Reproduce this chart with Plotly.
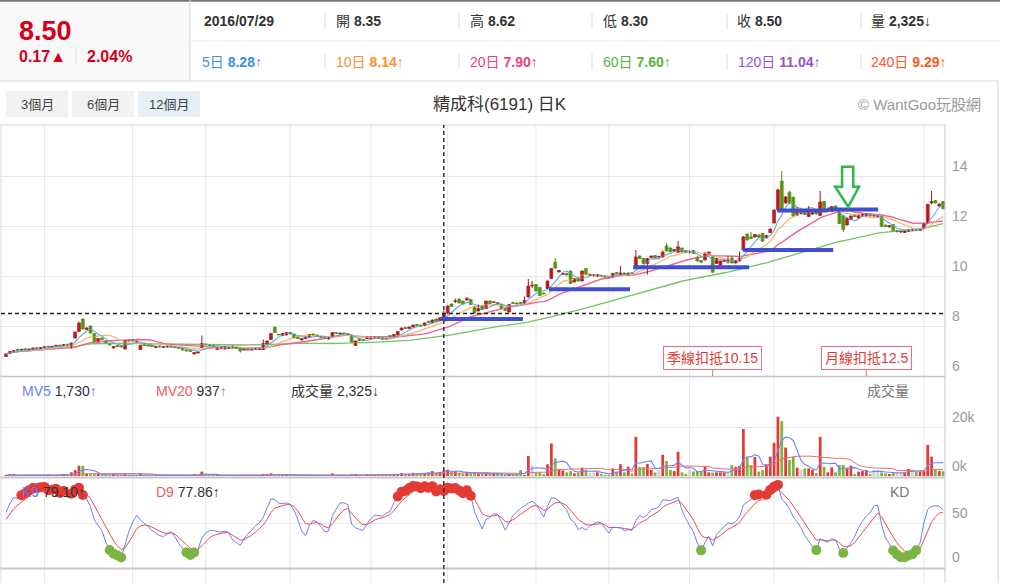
import pandas as pd
import plotly.graph_objects as go

# 精成科(6191) daily candles, oldest first
opens = [
    6.78, 6.90, 6.96, 7.06, 7.04, 7.08, 7.04, 7.08, 7.12, 7.10,
    7.14, 7.18, 7.16, 7.20, 7.22, 7.22, 7.24, 7.12, 7.52, 7.78,
    8.28, 7.86, 8.00, 7.70, 7.36, 7.52, 7.40, 7.30, 7.12, 7.22,
    7.20, 7.08, 7.44, 7.44, 7.40, 7.06, 7.28, 7.25, 7.22, 7.14,
    7.20, 7.14, 7.16, 7.20, 7.14, 7.14, 7.10, 7.04, 7.02, 6.88,
    6.92, 7.14, 7.28, 7.26, 7.22, 7.06, 7.10, 7.08, 7.10, 7.20,
    7.14, 7.12, 7.04, 7.04, 7.04, 7.06, 7.06, 7.06, 7.28, 7.46,
    7.95, 7.66, 7.62, 7.64, 7.74, 7.68, 7.56, 7.44, 7.50, 7.56,
    7.68, 7.64, 7.58, 7.54, 7.48, 7.58, 7.74, 7.68, 7.72, 7.70,
    7.64, 7.22, 7.48, 7.46, 7.50, 7.50, 7.52, 7.56, 7.52, 7.50,
    7.62, 7.58, 7.64, 7.84, 7.94, 7.90, 7.96, 8.06, 8.04, 8.02,
    8.18, 8.14, 8.28, 8.22, 8.35, 8.52, 8.88, 8.98, 9.08, 9.00,
    9.04, 9.06, 8.76, 8.60, 8.80, 8.70, 9.00, 8.94, 8.94, 8.86,
    8.70, 8.56, 8.94, 8.92, 8.94, 8.92, 9.16, 9.60, 9.66, 9.54,
    9.32, 9.50, 9.90, 10.56, 10.16, 10.06, 10.10, 10.20, 9.76, 9.90,
    9.80, 10.30, 10.04, 10.02, 9.98, 10.02, 10.00, 9.96, 9.96, 10.14,
    10.06, 10.12, 10.04, 10.12, 10.40, 10.80, 10.70, 10.50, 10.74, 10.82,
    10.76, 10.76, 11.20, 11.12, 11.00, 10.95, 11.12, 11.00, 10.94, 11.02,
    10.76, 10.62, 10.64, 10.88, 10.77, 10.50, 10.36, 10.58, 10.62, 10.72,
    10.52, 10.60, 11.04, 11.68, 11.56, 11.56, 11.64, 11.70, 11.52, 11.74,
    12.12, 12.64, 13.80, 12.92, 13.35, 13.15, 12.44, 12.50, 12.56, 12.38,
    12.48, 12.58, 12.42, 12.98, 12.58, 12.58, 12.80, 12.66, 12.40, 12.04,
    12.26, 12.42, 12.32, 12.40, 12.40, 12.46, 12.40, 12.38, 12.40, 12.04,
    11.96, 12.06, 11.78, 11.76, 11.74, 11.78, 11.84, 11.86, 11.82, 11.94,
    12.12, 12.92, 13.02, 12.80, 12.98,
]
closes = [
    6.88, 6.98, 7.02, 7.02, 7.06, 7.06, 7.08, 7.12, 7.10, 7.14,
    7.16, 7.16, 7.18, 7.22, 7.20, 7.26, 7.22, 7.32, 7.76, 8.12,
    7.88, 7.92, 7.72, 7.38, 7.50, 7.46, 7.32, 7.24, 7.18, 7.18,
    7.16, 7.42, 7.40, 7.40, 7.36, 7.22, 7.22, 7.20, 7.18, 7.18,
    7.16, 7.18, 7.20, 7.16, 7.16, 7.10, 7.04, 7.00, 6.98, 6.94,
    6.96, 7.30, 7.24, 7.22, 7.18, 7.14, 7.16, 7.18, 7.16, 7.12,
    7.10, 7.00, 7.08, 7.08, 7.08, 7.10, 7.10, 7.30, 7.40, 7.70,
    7.74, 7.64, 7.70, 7.74, 7.68, 7.52, 7.50, 7.50, 7.56, 7.66,
    7.64, 7.58, 7.54, 7.50, 7.54, 7.74, 7.70, 7.72, 7.68, 7.66,
    7.36, 7.40, 7.42, 7.42, 7.56, 7.56, 7.56, 7.50, 7.46, 7.46,
    7.56, 7.66, 7.78, 7.92, 7.90, 7.96, 8.04, 8.02, 8.00, 8.12,
    8.14, 8.24, 8.19, 8.33, 8.50, 8.80, 8.78, 9.00, 8.92, 8.88,
    9.10, 8.86, 8.52, 8.70, 8.66, 9.00, 8.90, 8.96, 8.88, 8.70,
    8.62, 8.86, 8.90, 8.88, 8.90, 9.02, 9.60, 9.60, 9.40, 9.22,
    9.28, 9.80, 10.30, 10.32, 10.22, 10.10, 10.04, 9.70, 9.90, 9.80,
    10.20, 10.06, 10.04, 10.02, 10.04, 9.98, 9.94, 9.92, 10.10, 10.08,
    10.12, 10.08, 10.12, 10.10, 10.76, 10.70, 10.50, 10.70, 10.80, 10.72,
    10.76, 10.96, 11.00, 10.98, 11.06, 11.17, 10.96, 10.94, 10.94, 10.90,
    10.60, 10.55, 10.92, 10.96, 10.15, 10.70, 10.60, 10.64, 10.62, 10.52,
    10.62, 10.70, 11.56, 11.44, 11.50, 11.66, 11.56, 11.40, 11.62, 11.88,
    12.64, 13.44, 12.64, 13.16, 12.90, 12.40, 12.60, 12.50, 12.46, 12.66,
    12.56, 12.48, 12.96, 12.62, 12.62, 12.78, 12.64, 12.10, 11.86, 12.30,
    12.40, 12.38, 12.44, 12.46, 12.50, 12.40, 12.40, 12.38, 11.98, 11.98,
    12.02, 11.80, 11.78, 11.76, 11.80, 11.84, 11.84, 11.82, 11.88, 12.10,
    12.86, 12.98, 12.92, 12.88, 12.70,
]
highs = [
    6.90, 7.00, 7.04, 7.10, 7.08, 7.10, 7.10, 7.14, 7.14, 7.16,
    7.18, 7.20, 7.20, 7.24, 7.26, 7.28, 7.30, 7.34, 7.78, 8.18,
    8.30, 7.96, 8.02, 7.72, 7.52, 7.54, 7.42, 7.32, 7.20, 7.24,
    7.22, 7.44, 7.46, 7.46, 7.42, 7.24, 7.30, 7.26, 7.24, 7.20,
    7.22, 7.20, 7.22, 7.22, 7.18, 7.16, 7.12, 7.06, 7.04, 6.96,
    6.98, 7.62, 7.30, 7.28, 7.24, 7.16, 7.18, 7.20, 7.18, 7.22,
    7.16, 7.14, 7.10, 7.10, 7.10, 7.12, 7.12, 7.46, 7.42, 7.72,
    7.98, 7.68, 7.72, 7.76, 7.76, 7.70, 7.58, 7.52, 7.58, 7.68,
    7.70, 7.66, 7.60, 7.56, 7.56, 7.76, 7.76, 7.74, 7.74, 7.72,
    7.66, 7.42, 7.50, 7.48, 7.58, 7.58, 7.58, 7.58, 7.54, 7.52,
    7.64, 7.68, 7.80, 7.94, 7.96, 7.98, 8.06, 8.08, 8.06, 8.14,
    8.22, 8.26, 8.30, 8.36, 8.62, 8.82, 8.90, 9.10, 9.10, 9.02,
    9.16, 9.08, 8.78, 8.86, 8.82, 9.02, 9.02, 8.98, 8.96, 8.88,
    8.72, 8.88, 8.96, 8.94, 8.96, 9.18, 9.88, 9.80, 9.68, 9.56,
    9.34, 9.82, 10.32, 10.72, 10.24, 10.12, 10.12, 10.22, 9.92, 9.92,
    10.22, 10.32, 10.08, 10.06, 10.06, 10.04, 10.02, 9.98, 10.12, 10.16,
    10.40, 10.14, 10.14, 10.14, 11.04, 10.82, 10.72, 10.72, 10.82, 10.84,
    10.80, 11.02, 11.30, 11.14, 11.08, 11.40, 11.14, 11.02, 10.98, 11.04,
    10.78, 10.64, 10.94, 10.98, 10.79, 10.72, 10.62, 10.66, 10.80, 10.80,
    10.64, 10.98, 11.60, 11.70, 11.76, 11.68, 11.66, 11.72, 11.64, 11.90,
    12.66, 13.50, 14.20, 13.20, 13.40, 13.18, 12.76, 12.60, 12.58, 12.80,
    12.58, 12.60, 13.40, 13.00, 12.66, 12.80, 12.82, 12.68, 12.44, 12.32,
    12.42, 12.44, 12.46, 12.48, 12.52, 12.48, 12.44, 12.42, 12.42, 12.06,
    12.04, 12.08, 11.82, 11.80, 11.82, 11.86, 11.88, 11.88, 11.90, 12.12,
    12.90, 13.40, 13.04, 12.90, 13.00,
]
lows = [
    6.76, 6.88, 6.94, 7.00, 7.02, 7.04, 7.02, 7.06, 7.08, 7.08,
    7.12, 7.14, 7.14, 7.18, 7.18, 7.20, 7.20, 7.10, 7.50, 7.76,
    7.86, 7.84, 7.70, 7.36, 7.34, 7.44, 7.30, 7.22, 7.10, 7.16,
    7.14, 7.06, 7.38, 7.38, 7.34, 7.04, 7.20, 7.18, 7.16, 7.12,
    7.14, 7.12, 7.14, 7.14, 7.12, 7.08, 7.02, 6.98, 6.96, 6.86,
    6.90, 7.12, 7.22, 7.20, 7.16, 7.04, 7.08, 7.06, 7.08, 7.10,
    7.08, 6.94, 7.02, 7.02, 7.02, 7.04, 7.04, 7.04, 7.26, 7.44,
    7.72, 7.62, 7.60, 7.62, 7.66, 7.50, 7.48, 7.42, 7.48, 7.54,
    7.62, 7.56, 7.52, 7.48, 7.46, 7.56, 7.68, 7.66, 7.66, 7.64,
    7.34, 7.20, 7.40, 7.40, 7.48, 7.48, 7.50, 7.48, 7.44, 7.44,
    7.54, 7.56, 7.62, 7.82, 7.88, 7.88, 7.94, 8.00, 7.98, 8.00,
    8.12, 8.12, 8.16, 8.20, 8.30, 8.48, 8.76, 8.92, 8.90, 8.86,
    9.02, 8.84, 8.50, 8.58, 8.64, 8.68, 8.88, 8.92, 8.86, 8.68,
    8.60, 8.54, 8.88, 8.86, 8.88, 8.90, 9.14, 9.52, 9.38, 9.20,
    9.26, 9.48, 9.88, 10.30, 10.14, 10.04, 10.02, 9.68, 9.74, 9.78,
    9.78, 10.04, 10.00, 9.98, 9.96, 9.96, 9.92, 9.90, 9.94, 10.06,
    10.04, 10.06, 10.02, 10.08, 10.38, 10.68, 10.48, 10.05, 10.72, 10.70,
    10.72, 10.74, 10.98, 10.96, 10.98, 10.93, 10.94, 10.92, 10.90, 10.88,
    10.58, 10.53, 10.62, 10.86, 10.13, 10.48, 10.34, 10.56, 10.50, 10.50,
    10.50, 10.58, 11.00, 11.42, 11.48, 11.54, 11.54, 11.36, 11.50, 11.72,
    12.10, 12.62, 12.60, 12.90, 12.88, 12.38, 12.40, 12.46, 12.44, 12.36,
    12.44, 12.46, 12.40, 12.60, 12.54, 12.56, 12.62, 12.08, 11.76, 12.02,
    12.24, 12.36, 12.30, 12.38, 12.38, 12.38, 12.36, 12.34, 11.96, 11.96,
    11.94, 11.78, 11.74, 11.72, 11.72, 11.76, 11.80, 11.80, 11.80, 11.92,
    12.10, 12.88, 12.90, 12.78, 12.66,
]
# lots
volumes = [
    300, 450, 500, 350, 280, 400, 320, 260, 380, 300,
    250, 420, 350, 300, 380, 460, 520, 1500, 2400, 4200,
    4200, 800, 600, 1000, 500, 350, 400, 300, 450, 300,
    280, 700, 400, 350, 300, 500, 350, 300, 280, 250,
    300, 260, 280, 240, 300, 350, 400, 380, 300, 420,
    350, 1800, 500, 400, 300, 350, 280, 300, 260, 320,
    280, 400, 300, 260, 240, 280, 300, 700, 600, 1100,
    700, 500, 400, 350, 300, 450, 380, 300, 350, 400,
    300, 280, 320, 300, 350, 1100, 400, 350, 300, 320,
    800, 600, 400, 350, 450, 400, 350, 500, 450, 380,
    420, 700, 800, 1200, 600, 900, 1300, 500, 690, 900,
    1500, 2000, 1200, 1625, 2325, 2600, 1800, 2000, 1200, 900,
    1400, 1100, 1600, 900, 700, 1500, 800, 600, 1200, 700,
    400, 700, 400, 500, 2450, 400, 8200, 4200, 1500, 1500,
    700, 4800, 13300, 7200, 2700, 2300, 1500, 2000, 1100, 1400,
    3400, 2450, 1400, 1400, 1500, 700, 400, 300, 3100, 1800,
    4800, 1500, 3800, 1000, 16000, 3700, 3700, 4900, 2450, 1400,
    2450, 8600, 6100, 2450, 2000, 9900, 1500, 700, 2450, 1800,
    2000, 2100, 3800, 1500, 1400, 1500, 1500, 1500, 1400, 4500,
    3800, 4100, 19200, 7500, 4500, 7800, 1800, 2450, 4800, 7900,
    13500, 24200, 22400, 11600, 6500, 7900, 3400, 2450, 3100, 3100,
    2450, 1200, 16000, 3800, 1500, 3500, 1500, 4500, 4500, 3100,
    4200, 700, 1800, 2000, 2450, 700, 2450, 2450, 1500, 1100,
    700, 1500, 1500, 1500, 1400, 2900, 2700, 1800, 1800, 2000,
    12700, 7900, 2700, 2000, 2000,
]

month_starts = [10, 33, 52, 74, 95, 115, 138, 157, 178, 200, 239]
cursor_day = 114
cursor_price = 8.50
# hand drawn support lines: (from day, to day, price)
support_lines = [(113.0, 134.6, 8.28), (141.4, 162.5, 9.47), (163.3, 193.5, 10.35),
                 (191.9, 215.4, 11.04), (200.8, 213.8, 12.62), (213.8, 227.1, 12.66)]
deductions = [(184, "季線扣抵10.15"), (224, "月線扣抵12.5")]

W, H = 1010, 583
FONT = "Liberation Sans, Arial, Noto Sans CJK TC, sans-serif"
UP, DOWN, FLAT = "#e53935", "#7cb342", "#cfcfcf"
BODY_UP, BODY_DN = "#d32424", "#66a61e"
EDGE_UP, EDGE_DN = "#a81818", "#4c8710"


def px(x):
    return x / W


def py(y):
    return 1 - y / H


df = pd.DataFrame({"open": opens, "high": highs, "low": lows,
                   "close": closes, "vol": volumes})
for n in (5, 10, 20, 60):
    df[f"ma{n}"] = df["close"].rolling(n, min_periods=1).mean()
df["mv5"] = df["vol"].rolling(5, min_periods=1).mean()
df["mv20"] = df["vol"].rolling(20, min_periods=1).mean()

# KD(9) the usual way: K = 2/3 K + 1/3 RSV, D = 2/3 D + 1/3 K
k = d = 50.0
ks, ds = [], []
for i in range(len(df)):
    lo = df["low"].iloc[max(0, i - 8):i + 1].min()
    hi = df["high"].iloc[max(0, i - 8):i + 1].max()
    rsv = (df["close"].iloc[i] - lo) / (hi - lo) * 100 if hi > lo else 50
    k = k * 2 / 3 + rsv / 3
    d = d * 2 / 3 + k / 3
    ks.append(k)
    ds.append(d)
df["k"] = ks
df["d"] = ds

days = list(range(len(df)))
up = df["close"] >= df["open"]
vol_colors = [UP if c > o else DOWN if c < o else FLAT for o, c in zip(opens, closes)]

fig = go.Figure()

# moving averages sit under the candles
for col, color, w in [("ma60", "#74c365", 1.3), ("ma20", "#f06292", 1.4),
                      ("ma10", "#f8b26a", 1.2), ("ma5", "#5dade2", 1.1)]:
    fig.add_trace(go.Scatter(x=days, y=df[col], mode="lines",
                             line=dict(color=color, width=w), xaxis="x", yaxis="y"))

# candles: wicks as lines, bodies as floating bars (red up / green down, Taiwan style)
for mask, edge in ((up, EDGE_UP), (~up, EDGE_DN)):
    wx, wy = [], []
    for i in df.index[mask]:
        wx += [i, i, None]
        wy += [df.at[i, "low"], df.at[i, "high"], None]
    fig.add_trace(go.Scatter(x=wx, y=wy, mode="lines", line=dict(color=edge, width=1),
                             xaxis="x", yaxis="y"))
body_base = df[["open", "close"]].min(axis=1)
body_len = (df["close"] - df["open"]).abs().clip(lower=0.03)
fig.add_trace(go.Bar(
    x=days, y=body_len, base=body_base, width=0.78,
    marker=dict(color=[BODY_UP if u else BODY_DN for u in up],
                line=dict(color=[EDGE_UP if u else EDGE_DN for u in up], width=0.6)),
    xaxis="x", yaxis="y"))

fig.add_trace(go.Bar(x=days, y=df["vol"], marker=dict(color=vol_colors, line=dict(width=0)),
                     width=0.72, xaxis="x2", yaxis="y2"))
fig.add_trace(go.Scatter(x=days, y=df["mv20"], mode="lines",
                         line=dict(color="#f26d6d", width=1), xaxis="x2", yaxis="y2"))
fig.add_trace(go.Scatter(x=days, y=df["mv5"], mode="lines",
                         line=dict(color="#6f86f7", width=1.1), xaxis="x2", yaxis="y2"))

fig.add_trace(go.Scatter(x=days, y=df["d"], mode="lines",
                         line=dict(color="#f04a4a", width=1), xaxis="x3", yaxis="y3"))
fig.add_trace(go.Scatter(x=days, y=df["k"], mode="lines",
                         line=dict(color="#6a7ff5", width=1), xaxis="x3", yaxis="y3"))
hot = df[df["k"] >= 80]
cold = df[df["k"] <= 20]
fig.add_trace(go.Scatter(x=hot.index, y=hot["k"], mode="markers",
                         marker=dict(color="#e53935", size=10), xaxis="x3", yaxis="y3"))
fig.add_trace(go.Scatter(x=cold.index, y=cold["k"], mode="markers",
                         marker=dict(color="#7cb342", size=10), xaxis="x3", yaxis="y3"))

xcommon = dict(range=[-1.3, 244.5], domain=[px(1), px(945)], showticklabels=False,
               showgrid=False, zeroline=False, showline=False, fixedrange=True)
ycommon = dict(side="right", showgrid=True, gridcolor="#e8e8e8", gridwidth=1, ticks="",
               zeroline=False, showline=False, fixedrange=True,
               ticklabelposition="outside top", ticklabelstandoff=6,
               tickfont=dict(family=FONT, size=14, color="#9a9a9a"))
fig.update_layout(
    width=W, height=H, margin=dict(l=0, r=0, t=0, b=0),
    paper_bgcolor="white", plot_bgcolor="white",
    showlegend=False, hovermode=False, barmode="overlay",
    xaxis=dict(xcommon, anchor="y"),
    xaxis2=dict(xcommon, anchor="y2"),
    xaxis3=dict(xcommon, anchor="y3"),
    yaxis=dict(ycommon, anchor="x", domain=[py(376), py(125)], range=[6, 16.04],
               tickvals=[6, 8, 10, 12, 14]),
    yaxis2=dict(ycommon, anchor="x2", domain=[py(476), py(378)], range=[0, 40000],
                tickvals=[0, 20000], ticktext=["0k", "20k"]),
    yaxis3=dict(ycommon, anchor="x3", domain=[py(567), py(479)], range=[0, 100],
                tickvals=[0, 50]),
)

shapes = []


def hline(y, x0, x1, color, width=1):
    shapes.append(dict(type="line", xref="paper", yref="paper", x0=px(x0), x1=px(x1),
                       y0=py(y), y1=py(y), line=dict(color=color, width=width)))


def vline(x, y0, y1, color, width=1):
    shapes.append(dict(type="line", xref="paper", yref="paper", x0=px(x), x1=px(x),
                       y0=py(y0), y1=py(y1), line=dict(color=color, width=width)))


def box(x0, y0, x1, y1, fill):
    shapes.append(dict(type="rect", xref="paper", yref="paper", x0=px(x0), x1=px(x1),
                       y0=py(y1), y1=py(y0), fillcolor=fill, line=dict(width=0), layer="below"))


# header
box(0, 1, 190, 81, "#f8f8f8")
box(6, 91, 68, 117, "#f2f2f2")
box(72, 91, 134, 117, "#f2f2f2")
box(138, 91, 200, 117, "#e6eef8")
hline(0.8, 0, 1000, "#777777", 2)
vline(190, 0, 81, "#d8d8d8")
hline(41, 190, 1000, "#e8e8e8")
hline(81, 0, 998, "#d8d8d8")
vline(998, 81, 583, "#d8d8d8")
for x in (325, 459, 592, 727, 861):
    vline(x, 13, 29, "#dddddd")
    vline(x, 54, 70, "#dddddd")
vline(76, 49, 63, "#dddddd")

# month grid through every panel
for m in month_starts:
    shapes.append(dict(type="line", xref="x", yref="paper", x0=m, x1=m, y0=0, y1=py(125),
                       line=dict(color="#e6e6e6", width=1), layer="below"))

# panel frame
hline(125, 0, 945, "#d6d6d6")
hline(376.5, 0, 945, "#c4c4c4", 1.5)
hline(477.5, 0, 945, "#c8c8c8", 2)
hline(568.5, 0, 945, "#c8c8c8", 2)
vline(945, 125, 583, "#c8c8c8")
vline(1, 125, 583, "#dcdcdc")

# cursor
shapes.append(dict(type="line", xref="paper", yref="y", x0=px(1), x1=px(945),
                   y0=cursor_price, y1=cursor_price,
                   line=dict(color="#222222", width=1.5, dash="4px,3px")))
shapes.append(dict(type="line", xref="x", yref="paper", x0=cursor_day, x1=cursor_day,
                   y0=0, y1=py(125), line=dict(color="#333333", width=1.5, dash="4px,3px")))

for x0, x1, p in support_lines:
    shapes.append(dict(type="line", xref="x", yref="y", x0=x0, x1=x1, y0=p, y1=p,
                       line=dict(color="#3f4fcf", width=4)))

# green down arrow
shapes.append(dict(type="path", xref="x", yref="y",
                   path="M 217.7,14.37 L 220.6,14.37 L 220.6,13.57 L 222.1,13.57 "
                        "L 219.3,12.77 L 215.9,13.57 L 217.7,13.57 Z",
                   line=dict(color="#2db84d", width=2.5)))

for day, _ in deductions:
    shapes.append(dict(type="line", xref="x", yref="paper", x0=day, x1=day,
                       y0=py(376), y1=py(369), line=dict(color="#e8707f", width=1)))

fig.update_layout(shapes=shapes)

annotations = []


def text(x, y, s, size=14, color="#333333", anchor="left"):
    annotations.append(dict(xref="paper", yref="paper", x=px(x), y=py(y), text=s,
                            showarrow=False, xanchor=anchor, yanchor="middle",
                            font=dict(family=FONT, size=size, color=color)))


text(17, 31, "<b>8.50</b>", 27, "#d0021b")
text(17, 56, "<b>0.17▲</b>", 16, "#d0021b")
text(85, 56, "<b>2.04%</b>", 16, "#d0021b")

text(202, 21, "<b>2016/07/29</b>", 14)
text(334, 21, "開 <b>8.35</b>", 14)
text(468, 21, "高 <b>8.62</b>", 14)
text(601, 21, "低 <b>8.30</b>", 14)
text(735, 21, "收 <b>8.50</b>", 14)
text(869, 21, "量 <b>2,325</b>↓", 14)

row2 = [(200, "5日", "8.28", "#3d8fe0"), (334, "10日", "8.14", "#f7922f"),
        (468, "20日", "7.90", "#ee3f78"), (601, "60日", "7.60", "#55b43b"),
        (736, "120日", "11.04", "#9a52cf"), (869, "240日", "9.29", "#ff5722")]
for x, label, val, color in row2:
    text(x, 62, f"{label} <b>{val}</b>↑", 14, color)

text(37, 104, "3個月", 13, "#444444", "center")
text(103, 104, "6個月", 13, "#444444", "center")
text(169, 104, "12個月", 13, "#444444", "center")
text(500, 104, "精成科(6191) 日K", 17, "#333333", "center")
text(919, 104, "© WantGoo玩股網", 15, "#9a9a9a", "center")

text(20, 391, '<span style="color:#6d7ff5">MV5</span> 1,730<span style="color:#9b6fd6">↑</span>', 14)
text(154, 391, '<span style="color:#f05a5a">MV20</span> 937<span style="color:#9b6fd6">↑</span>', 14)
text(289, 391, "成交量 2,325↓", 14)
text(911, 391, "成交量", 14, "#777777", "right")
text(20, 492, '<span style="color:#6a6ff0">K9</span> 79.10↑', 14)
text(154, 492, '<span style="color:#f05a5a">D9</span> 77.86↑', 14)
text(911, 492, "KD", 14, "#777777", "right")

for day, label in deductions:
    annotations.append(dict(xref="x", yref="paper", x=day, y=py(358), text=label,
                            showarrow=False, xanchor="center", yanchor="middle",
                            bgcolor="white", bordercolor="#e8707f", borderwidth=1, borderpad=3,
                            font=dict(family=FONT, size=14, color="#e53935")))

fig.update_layout(annotations=annotations)

fig.write_html("out.html", config={"displayModeBar": False},
               post_script="document.body.style.margin='0px';")
